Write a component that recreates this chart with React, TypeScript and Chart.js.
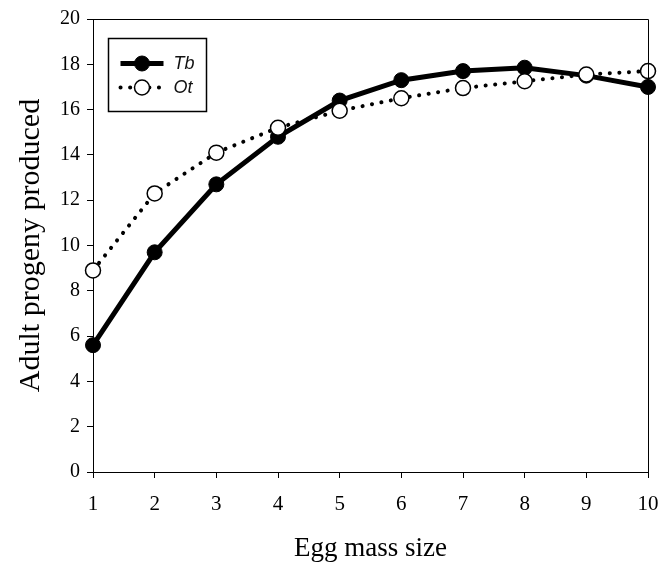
import React, { useEffect, useRef } from "react";
import { Chart, registerables } from "chart.js";

Chart.register(...registerables);

const eggMassSizes = [1, 2, 3, 4, 5, 6, 7, 8, 9, 10];
const tbValues = [5.6, 9.7, 12.7, 14.8, 16.4, 17.3, 17.7, 17.85, 17.5, 17.0];
const otValues = [8.9, 12.3, 14.1, 15.2, 15.95, 16.5, 16.95, 17.25, 17.55, 17.7];
const seriesLabels = ["Tb", "Ot"];
const xTitle = "Egg mass size";
const yTitle = "Adult progeny produced";

const framePlugin = {
  id: "frame",
  afterDatasetsDraw(chart: any) {
    const { ctx, chartArea } = chart;
    ctx.save();
    ctx.strokeStyle = "#000";
    ctx.lineWidth = 1;
    ctx.beginPath();
    ctx.moveTo(Math.round(chartArea.left) + 0.5, Math.round(chartArea.top) + 0.5);
    ctx.lineTo(Math.round(chartArea.right) + 0.5, Math.round(chartArea.top) + 0.5);
    ctx.lineTo(Math.round(chartArea.right) + 0.5, Math.round(chartArea.bottom) + 0.5);
    ctx.stroke();
    ctx.restore();
  },
};

const boxLegendPlugin = {
  id: "boxLegend",
  afterDraw(chart: any) {
    const { ctx, chartArea } = chart;
    const bx = Math.round(chartArea.left + 15) + 0.5;
    const by = Math.round(chartArea.top + 19) + 0.5;
    const bw = 98;
    const bh = 73;
    ctx.save();
    ctx.strokeStyle = "#000";
    ctx.lineWidth = 1.5;
    ctx.strokeRect(bx, by, bw, bh);
    const rows = [25, 49];
    chart.data.datasets.forEach((ds: any, i: number) => {
      const y = by + rows[i];
      const x0 = bx + 12;
      const x1 = bx + 55;
      const cx = (x0 + x1) / 2;
      ctx.save();
      ctx.strokeStyle = ds.borderColor;
      ctx.lineWidth = ds.borderWidth;
      ctx.lineCap = ds.borderCapStyle || "butt";
      ctx.setLineDash(ds.borderDash || []);
      ctx.beginPath();
      ctx.moveTo(x0, y);
      ctx.lineTo(x1, y);
      ctx.stroke();
      ctx.setLineDash([]);
      ctx.beginPath();
      ctx.arc(cx, y, ds.pointRadius, 0, Math.PI * 2);
      ctx.fillStyle = ds.pointBackgroundColor;
      ctx.fill();
      ctx.lineWidth = ds.pointBorderWidth;
      ctx.strokeStyle = ds.pointBorderColor;
      ctx.stroke();
      ctx.restore();
      ctx.fillStyle = "#111";
      ctx.font = "italic 18px 'Liberation Sans', Arial, sans-serif";
      ctx.textBaseline = "middle";
      ctx.textAlign = "left";
      ctx.fillText(ds.label, bx + 65, y);
    });
    ctx.restore();
  },
};

export default function App() {
  const canvasRef = useRef<HTMLCanvasElement | null>(null);

  useEffect(() => {
    const canvas = canvasRef.current;
    if (!canvas) return;
    const chart = new Chart(canvas, {
      type: "line",
      data: {
        labels: eggMassSizes,
        datasets: [
          {
            label: seriesLabels[0],
            data: eggMassSizes.map((x, i) => ({ x, y: tbValues[i] })),
            borderColor: "#000",
            borderWidth: 5,
            pointRadius: 7.5,
            pointBackgroundColor: "#000",
            pointBorderColor: "#000",
            pointBorderWidth: 1,
            tension: 0,
            clip: false,
            order: 2,
          },
          {
            label: seriesLabels[1],
            data: eggMassSizes.map((x, i) => ({ x, y: otValues[i] })),
            borderColor: "#000",
            borderWidth: 4,
            borderDash: [0.1, 9.5],
            borderCapStyle: "round",
            pointRadius: 7.5,
            pointBackgroundColor: "#fff",
            pointBorderColor: "#000",
            pointBorderWidth: 1.5,
            tension: 0,
            clip: false,
            order: 1,
          },
        ] as any,
      },
      options: {
        animation: false,
        responsive: false,
        layout: { padding: { top: 19, right: 15, left: 0, bottom: 0 } },
        plugins: {
          legend: { display: false },
          tooltip: { enabled: false },
        },
        scales: {
          x: {
            type: "linear",
            min: 1,
            max: 10,
            afterFit(scale: any) {
              scale.height = 97;
              scale.paddingLeft = 0;
              scale.paddingRight = 0;
            },
            ticks: {
              stepSize: 1,
              color: "#000",
              padding: 14,
              maxRotation: 0,
              font: { family: "'Liberation Serif', 'Times New Roman', serif", size: 21 },
            },
            grid: { drawOnChartArea: false, drawTicks: true, tickLength: 6, color: "#000", lineWidth: 1 },
            border: { display: true, color: "#000", width: 1 },
            title: {
              display: true,
              text: xTitle,
              color: "#000",
              padding: { top: 0, bottom: 4 },
              font: { family: "'Liberation Serif', 'Times New Roman', serif", size: 27 },
            },
          },
          y: {
            type: "linear",
            min: 0,
            max: 20,
            afterFit(scale: any) {
              scale.width = 93;
              scale.paddingTop = 0;
              scale.paddingBottom = 0;
            },
            ticks: {
              stepSize: 2,
              color: "#000",
              padding: 7,
              font: { family: "'Liberation Serif', 'Times New Roman', serif", size: 20 },
            },
            grid: { drawOnChartArea: false, drawTicks: true, tickLength: 6, color: "#000", lineWidth: 1 },
            border: { display: true, color: "#000", width: 1 },
            title: {
              display: true,
              text: yTitle,
              color: "#000",
              padding: { top: 13, bottom: 0 },
              font: { family: "'Liberation Serif', 'Times New Roman', serif", size: 30 },
            },
          },
        },
      },
      plugins: [framePlugin, boxLegendPlugin],
    });
    return () => chart.destroy();
  }, []);

  return (
    <div style={{ position: "fixed", left: 0, top: 0, width: 663, height: 569, background: "#fff", overflow: "hidden" }}>
      <canvas ref={canvasRef} width={663} height={569} />
    </div>
  );
}
